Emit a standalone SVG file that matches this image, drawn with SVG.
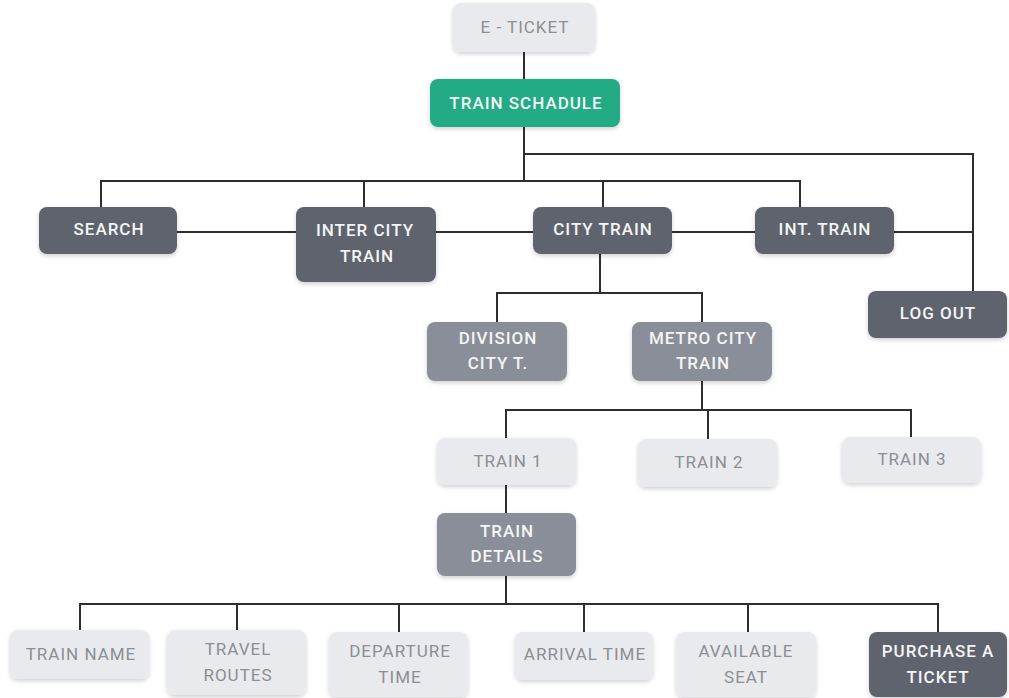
<svg xmlns="http://www.w3.org/2000/svg" width="1009" height="698" viewBox="0 0 1009 698">
<defs>
<filter id="sh" x="-20%" y="-20%" width="140%" height="150%">
<feDropShadow dx="0" dy="2" stdDeviation="2" flood-color="#000" flood-opacity="0.18"/>
</filter>
<style>
.n rect{filter:url(#sh)}
.light rect{fill:#e9eaed}
.dark rect{fill:#5e636e}
.mid rect{fill:#8a8e98}
.green rect{fill:#21ab85}
text{font-family:Roboto,"Liberation Sans",sans-serif;font-size:17px;font-weight:500;letter-spacing:1px;text-anchor:middle;dominant-baseline:central}
.light text{fill:#8b8e94;font-weight:400}
.dark text,.mid text,.green text{fill:#f4f5f6}
.c path{fill:none;stroke:#2e2e2e;stroke-width:2}
</style>
</defs>
<rect width="1009" height="698" fill="#ffffff"/>
<g class="c" id="connectors">
<path d="M524 52V79"/>
<path d="M524 127V181"/>
<path d="M524 154H973V291"/>
<path d="M101 207V181H800V207"/>
<path d="M364 181V207"/>
<path d="M603 181V207"/>
<path d="M177 232H296"/>
<path d="M436 232H533"/>
<path d="M672 232H755"/>
<path d="M894 232H973"/>
<path d="M600 254V293"/>
<path d="M497 322V293H702V322"/>
<path d="M702 381V410"/>
<path d="M506 438V410H911V437"/>
<path d="M708 410V439"/>
<path d="M506 485V513"/>
<path d="M506 576V604"/>
<path d="M80 630V604H938V632"/>
<path d="M237 604V630"/>
<path d="M399 604V632"/>
<path d="M584 604V632"/>
<path d="M748 604V632"/>
</g>
<g id="eticket" class="n light"><rect x="453" y="3" width="142" height="49" rx="8"/><text x="525" y="27">E - TICKET</text></g>
<g id="schedule" class="n green"><rect x="430" y="79" width="190" height="48" rx="8"/><text x="526" y="103">TRAIN SCHADULE</text></g>
<g id="search" class="n dark"><rect x="39" y="207" width="138" height="47" rx="8"/><text x="109" y="229">SEARCH</text></g>
<g id="intercity" class="n dark"><rect x="296" y="207" width="140" height="75" rx="8"/><text x="365" y="230">INTER CITY</text><text x="367" y="256">TRAIN</text></g>
<g id="citytrain" class="n dark"><rect x="533" y="207" width="139" height="47" rx="8"/><text x="603" y="229">CITY TRAIN</text></g>
<g id="inttrain" class="n dark"><rect x="755" y="207" width="139" height="47" rx="8"/><text x="825" y="229">INT. TRAIN</text></g>
<g id="logout" class="n dark"><rect x="868" y="291" width="139" height="47" rx="8"/><text x="938" y="313">LOG OUT</text></g>
<g id="division" class="n mid"><rect x="427" y="322" width="140" height="59" rx="8"/><text x="498" y="338">DIVISION</text><text x="498" y="363">CITY T.</text></g>
<g id="metro" class="n mid"><rect x="632" y="322" width="140" height="59" rx="8"/><text x="703" y="338">METRO CITY</text><text x="703" y="363">TRAIN</text></g>
<g id="train1" class="n light"><rect x="437" y="438" width="139" height="47" rx="8"/><text x="508" y="461">TRAIN 1</text></g>
<g id="train2" class="n light"><rect x="638" y="439" width="139" height="48" rx="8"/><text x="709" y="462">TRAIN 2</text></g>
<g id="train3" class="n light"><rect x="842" y="437" width="139" height="46" rx="8"/><text x="912" y="459">TRAIN 3</text></g>
<g id="details" class="n mid"><rect x="437" y="513" width="139" height="63" rx="8"/><text x="507" y="531">TRAIN</text><text x="507" y="556">DETAILS</text></g>
<g id="trainname" class="n light"><rect x="10" y="630" width="139" height="49" rx="8"/><text x="81" y="654">TRAIN NAME</text></g>
<g id="routes" class="n light"><rect x="167" y="630" width="139" height="65" rx="8"/><text x="238" y="649">TRAVEL</text><text x="238" y="675">ROUTES</text></g>
<g id="departure" class="n light"><rect x="329" y="632" width="139" height="65" rx="8"/><text x="400" y="651">DEPARTURE</text><text x="400" y="677">TIME</text></g>
<g id="arrival" class="n light"><rect x="515" y="632" width="138" height="48" rx="8"/><text x="585" y="654">ARRIVAL TIME</text></g>
<g id="seat" class="n light"><rect x="676" y="632" width="140" height="65" rx="8"/><text x="746" y="651">AVAILABLE</text><text x="746" y="677">SEAT</text></g>
<g id="purchase" class="n dark"><rect x="869" y="632" width="138" height="65" rx="8"/><text x="938" y="651">PURCHASE A</text><text x="938" y="677">TICKET</text></g>
</svg>
